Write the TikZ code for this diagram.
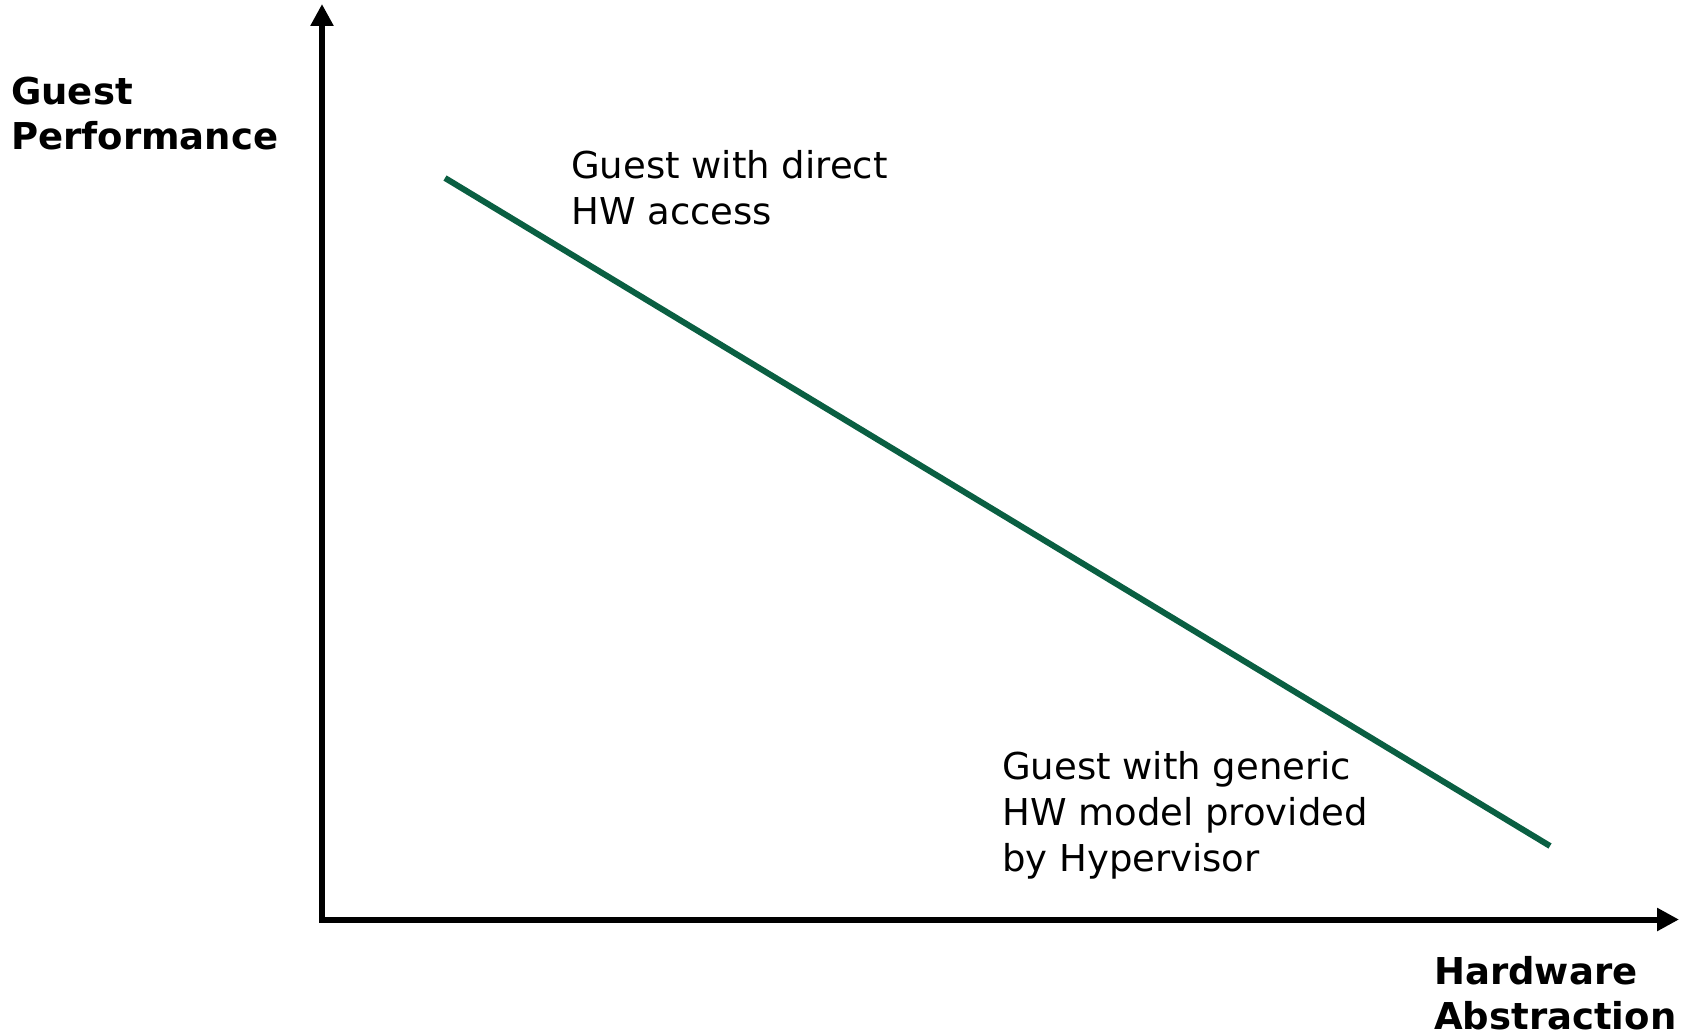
\documentclass[tikz,border=0pt]{standalone}
\usepackage{fontspec}
\setmainfont{DejaVu Sans}
\usetikzlibrary{arrows.meta}
\definecolor{trend}{HTML}{0A5F42}
\begin{document}
\begin{tikzpicture}[x=1pt,y=-1pt,
  axis/.style={line width=6pt,-{Triangle[length=22pt,width=22pt]}},
  axislabel/.style={inner sep=0pt,anchor=base west,align=left,
    font=\fontsize{37}{45}\selectfont\bfseries},
  note/.style={inner sep=0pt,anchor=base west,align=left,
    font=\fontsize{37}{46}\selectfont},
  trendline/.style={draw=trend,line width=6pt}]
  \useasboundingbox (0,0) rectangle (1681,1033);
  % axes
  \coordinate (origin) at (322,919.5);
  \coordinate (ytop) at (322,4);
  \coordinate (xend) at (1679,919.5);
  \draw[axis] (origin) -- (ytop);
  \draw[axis] (origin) -- (xend);
  \draw[line width=6pt,line cap=rect] (origin) -- ++(0,-1);
  % trend from direct access to modelled hardware
  \coordinate (hi) at (445,178);
  \coordinate (lo) at (1550,846);
  \draw[trendline] (hi) -- (lo);
  % axis titles (anchored at the baseline of the last line)
  \node[axislabel] (ylab) at (11,149) {Guest\\Performance};
  \node[axislabel] (xlab) at (1434,1029) {Hardware\\Abstraction};
  % annotations
  \node[note] (direct) at (571,224) {Guest with direct\\HW access};
  \node[note] (generic) at (1002,871) {Guest with generic\\HW model provided\\by Hypervisor};
\end{tikzpicture}
\end{document}
